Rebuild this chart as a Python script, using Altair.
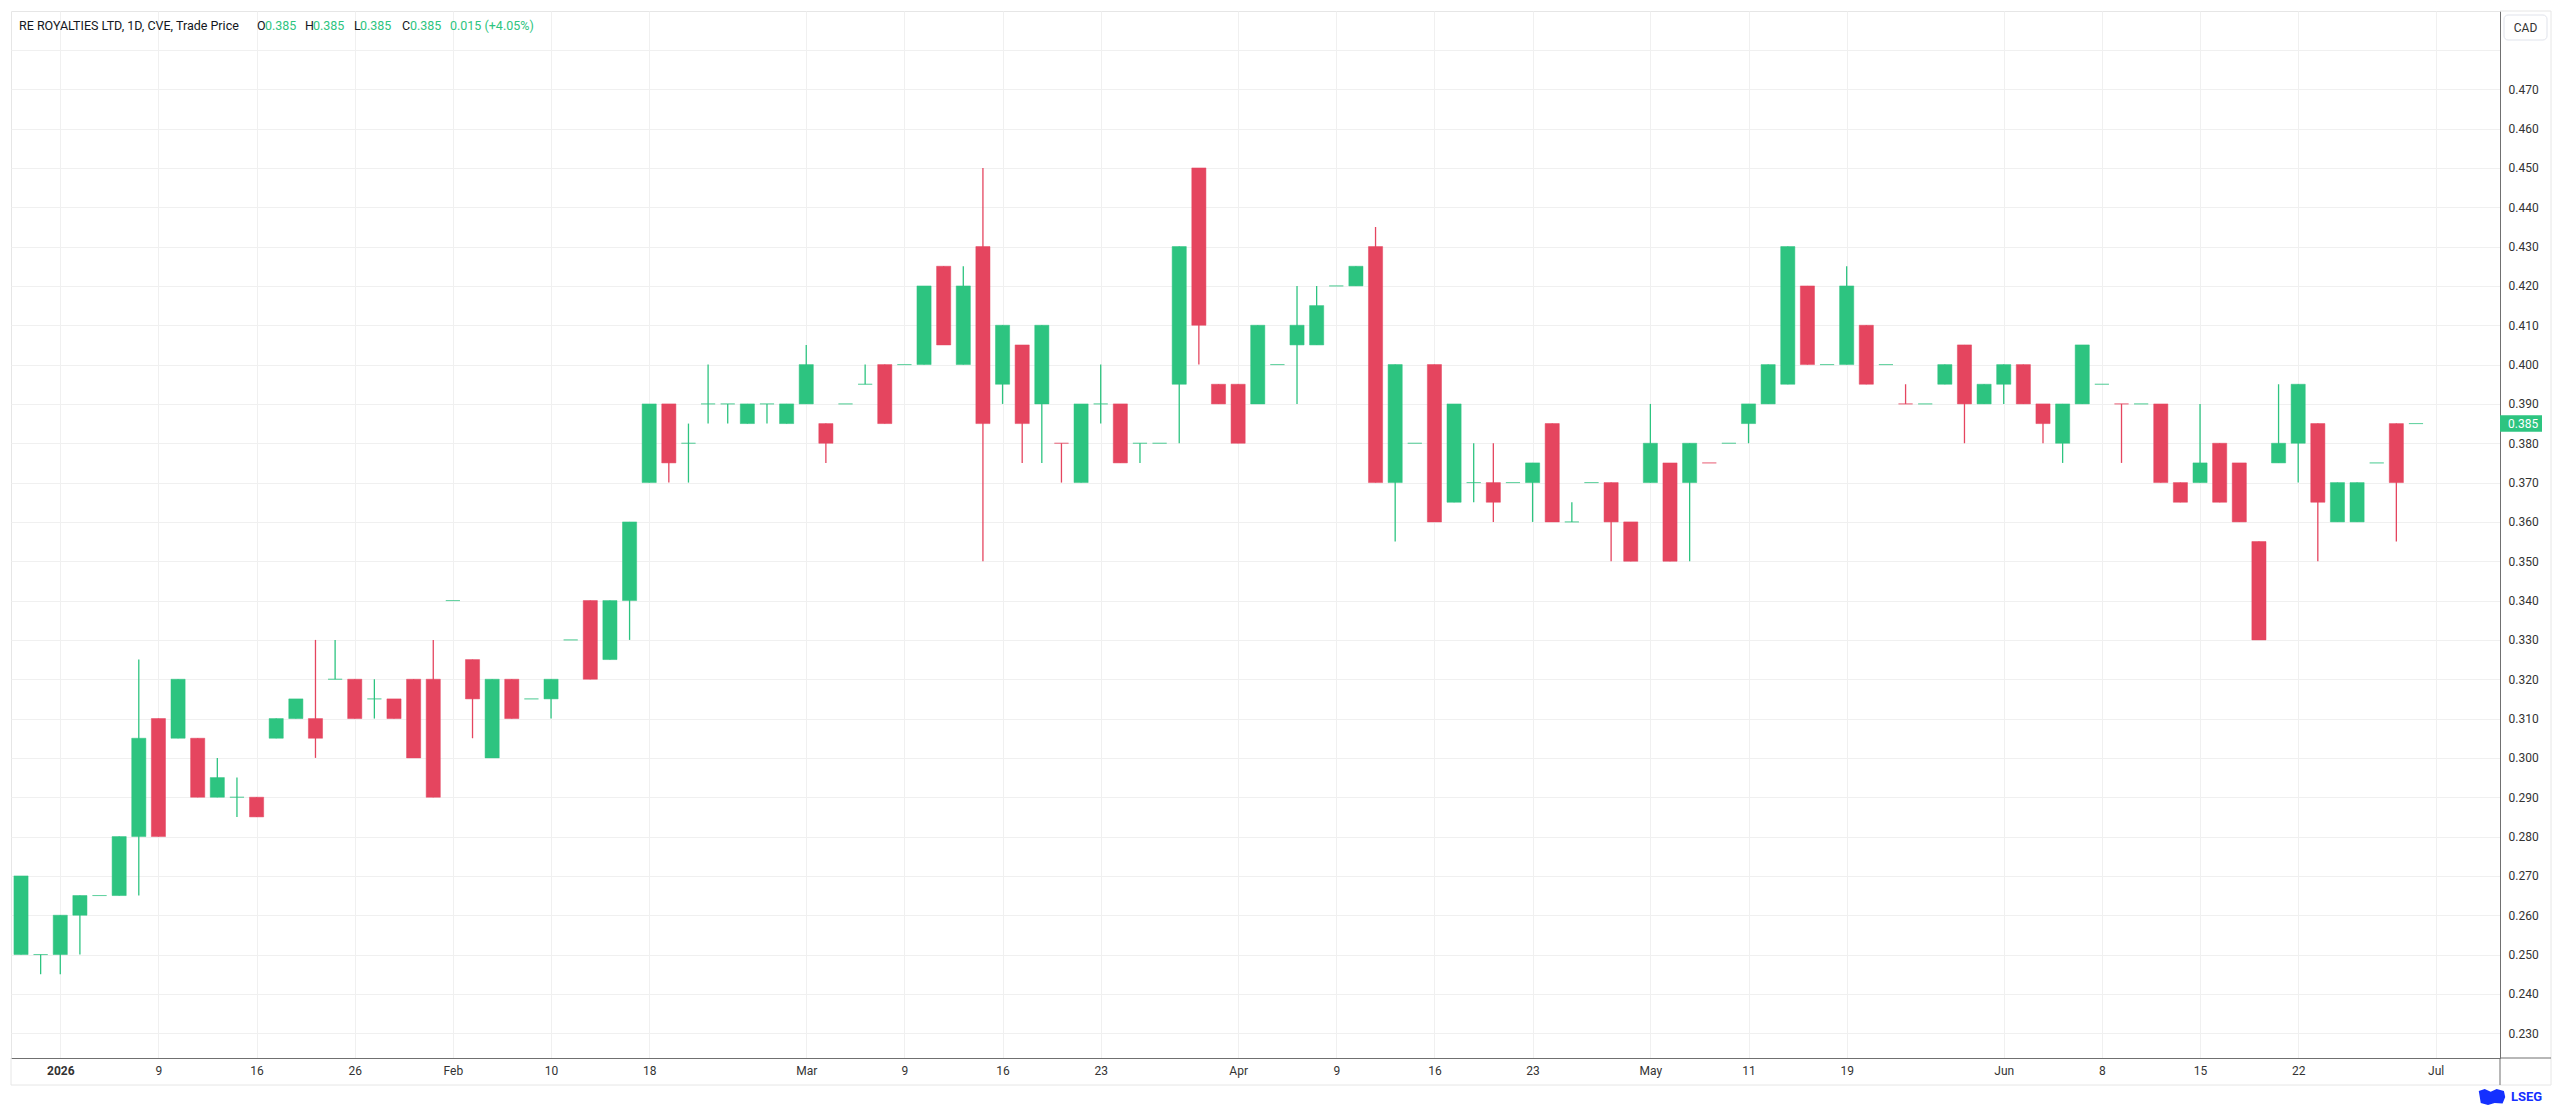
import altair as alt
import pandas as pd

# ---- data (daily OHLC, CAD) ----
opens = [0.250, 0.250, 0.250, 0.260, 0.265, 0.265, 0.280, 0.310, 0.305, 0.305,
         0.290, 0.290, 0.290, 0.305, 0.310, 0.310, 0.320, 0.320, 0.315, 0.315,
         0.320, 0.320, 0.340, 0.325, 0.300, 0.320, 0.315, 0.315, 0.330, 0.340,
         0.325, 0.340, 0.370, 0.390, 0.380, 0.390, 0.390, 0.385, 0.390, 0.385,
         0.390, 0.385, 0.390, 0.395, 0.400, 0.400, 0.400, 0.425, 0.400, 0.430,
         0.395, 0.405, 0.390, 0.380, 0.370, 0.390, 0.390, 0.380, 0.380, 0.395,
         0.450, 0.395, 0.395, 0.390, 0.400, 0.405, 0.405, 0.420, 0.420, 0.430,
         0.370, 0.380, 0.400, 0.365, 0.370, 0.370, 0.370, 0.370, 0.385, 0.360,
         0.370, 0.370, 0.360, 0.370, 0.375, 0.370, 0.375, 0.380, 0.385, 0.390,
         0.395, 0.420, 0.400, 0.400, 0.410, 0.400, 0.390, 0.390, 0.395, 0.405,
         0.390, 0.395, 0.400, 0.390, 0.380, 0.390, 0.395, 0.390, 0.390, 0.390,
         0.370, 0.370, 0.380, 0.375, 0.355, 0.375, 0.380, 0.385, 0.360, 0.360,
         0.375, 0.385, 0.385]
highs = [0.270, 0.250, 0.260, 0.265, 0.265, 0.280, 0.325, 0.310, 0.320, 0.305,
         0.300, 0.295, 0.290, 0.310, 0.315, 0.330, 0.330, 0.320, 0.320, 0.315,
         0.320, 0.330, 0.340, 0.325, 0.320, 0.320, 0.315, 0.320, 0.330, 0.340,
         0.340, 0.360, 0.390, 0.390, 0.385, 0.400, 0.390, 0.390, 0.390, 0.390,
         0.405, 0.385, 0.390, 0.400, 0.400, 0.400, 0.420, 0.425, 0.425, 0.450,
         0.410, 0.405, 0.410, 0.380, 0.390, 0.400, 0.390, 0.380, 0.380, 0.430,
         0.450, 0.395, 0.395, 0.410, 0.400, 0.420, 0.420, 0.420, 0.425, 0.435,
         0.400, 0.380, 0.400, 0.390, 0.380, 0.380, 0.370, 0.375, 0.385, 0.365,
         0.370, 0.370, 0.360, 0.390, 0.375, 0.380, 0.375, 0.380, 0.390, 0.400,
         0.430, 0.420, 0.400, 0.425, 0.410, 0.400, 0.395, 0.390, 0.400, 0.405,
         0.395, 0.400, 0.400, 0.390, 0.390, 0.405, 0.395, 0.390, 0.390, 0.390,
         0.370, 0.390, 0.380, 0.375, 0.355, 0.395, 0.395, 0.385, 0.370, 0.370,
         0.375, 0.385, 0.385]
lows = [0.250, 0.245, 0.245, 0.250, 0.265, 0.265, 0.265, 0.280, 0.305, 0.290,
        0.290, 0.285, 0.285, 0.305, 0.310, 0.300, 0.320, 0.310, 0.310, 0.310,
        0.300, 0.290, 0.340, 0.305, 0.300, 0.310, 0.315, 0.310, 0.330, 0.320,
        0.325, 0.330, 0.370, 0.370, 0.370, 0.385, 0.385, 0.385, 0.385, 0.385,
        0.390, 0.375, 0.390, 0.395, 0.385, 0.400, 0.400, 0.405, 0.400, 0.350,
        0.390, 0.375, 0.375, 0.370, 0.370, 0.385, 0.375, 0.375, 0.380, 0.380,
        0.400, 0.390, 0.380, 0.390, 0.400, 0.390, 0.405, 0.420, 0.420, 0.370,
        0.355, 0.380, 0.360, 0.365, 0.365, 0.360, 0.370, 0.360, 0.360, 0.360,
        0.370, 0.350, 0.350, 0.370, 0.350, 0.350, 0.375, 0.380, 0.380, 0.390,
        0.395, 0.400, 0.400, 0.400, 0.395, 0.400, 0.390, 0.390, 0.395, 0.380,
        0.390, 0.390, 0.390, 0.380, 0.375, 0.390, 0.395, 0.375, 0.390, 0.370,
        0.365, 0.370, 0.365, 0.360, 0.330, 0.375, 0.370, 0.350, 0.360, 0.360,
        0.375, 0.355, 0.385]
closes = [0.270, 0.250, 0.260, 0.265, 0.265, 0.280, 0.305, 0.280, 0.320, 0.290,
          0.295, 0.290, 0.285, 0.310, 0.315, 0.305, 0.320, 0.310, 0.315, 0.310,
          0.300, 0.290, 0.340, 0.315, 0.320, 0.310, 0.315, 0.320, 0.330, 0.320,
          0.340, 0.360, 0.390, 0.375, 0.380, 0.390, 0.390, 0.390, 0.390, 0.390,
          0.400, 0.380, 0.390, 0.395, 0.385, 0.400, 0.420, 0.405, 0.420, 0.385,
          0.410, 0.385, 0.410, 0.380, 0.390, 0.390, 0.375, 0.380, 0.380, 0.430,
          0.410, 0.390, 0.380, 0.410, 0.400, 0.410, 0.415, 0.420, 0.425, 0.370,
          0.400, 0.380, 0.360, 0.390, 0.370, 0.365, 0.370, 0.375, 0.360, 0.360,
          0.370, 0.360, 0.350, 0.380, 0.350, 0.380, 0.375, 0.380, 0.390, 0.400,
          0.430, 0.400, 0.400, 0.420, 0.395, 0.400, 0.390, 0.390, 0.400, 0.390,
          0.395, 0.400, 0.390, 0.385, 0.390, 0.405, 0.395, 0.390, 0.390, 0.370,
          0.365, 0.375, 0.365, 0.360, 0.330, 0.380, 0.395, 0.365, 0.370, 0.370,
          0.375, 0.370, 0.385]
# dojis (open == close) drawn in the down colour
doji_down = [53, 86, 96, 107]

tick_idx = [2, 7, 12, 17, 22, 27, 32, 40, 45, 50, 55, 62, 67, 72, 77, 83, 88, 93,
            101, 106, 111, 116, 123]
tick_labels = ["2026", "9", "16", "26", "Feb", "10", "18", "Mar", "9", "16", "23",
               "Apr", "9", "16", "23", "May", "11", "19", "Jun", "8", "15", "22", "Jul"]
price_ticks = [0.23, 0.24, 0.25, 0.26, 0.27, 0.28, 0.29, 0.30, 0.31, 0.32, 0.33,
               0.34, 0.35, 0.36, 0.37, 0.38, 0.39, 0.40, 0.41, 0.42, 0.43, 0.44,
               0.45, 0.46, 0.47, 0.48]

title_text = "RE ROYALTIES LTD, 1D, CVE, Trade Price"
change_text = "0.015 (+4.05%)"
currency = "CAD"

# ---- styling ----
GREEN = "#2dc480"
RED = "#e5455f"
FONT = "Roboto"
TXT = "#131722"
GRID = "#f0f0f0"
FRAME = "#e6e6e6"
AXISLINE = "#707070"

W, H = 2489, 1047

n = len(opens)
dirs = []
for i in range(n):
    if closes[i] > opens[i]:
        dirs.append("up")
    elif closes[i] < opens[i]:
        dirs.append("down")
    else:
        dirs.append("down" if i in doji_down else "up")

df = pd.DataFrame({"i": list(range(n)), "o": opens, "h": highs, "l": lows,
                   "c": closes, "dir": dirs})

lab_arr = [""] * (max(tick_idx) + 1)
for t, s in zip(tick_idx, tick_labels):
    lab_arr[t] = s
label_expr = "[" + ",".join("'%s'" % s for s in lab_arr) + "][datum.value]"

xs = alt.Scale(domain=[-0.51, 126.28], nice=False, zero=False)
ys = alt.Scale(domain=[0.2237, 0.4899], nice=False, zero=False)
cs = alt.Scale(domain=["up", "down"], range=[GREEN, RED])

xaxis = alt.Axis(values=tick_idx, labelExpr=label_expr, grid=True, gridColor=GRID,
                 gridWidth=1, ticks=False, domainColor=AXISLINE, domainWidth=1,
                 labelColor="#333333", labelFont=FONT, labelFontSize=12,
                 labelPadding=7, title=None, labelFlush=False, labelOverlap=False,
                 labelFontWeight={"expr": "datum.value == 2 ? 'bold' : 'normal'"})
yaxis = alt.Axis(orient="right", values=price_ticks,
                 labelExpr="datum.value > 0.475 ? '' : format(datum.value, '.3f')",
                 grid=True, gridColor=GRID, gridWidth=1, ticks=False,
                 domainColor=AXISLINE, domainWidth=1, labelColor="#333333",
                 labelFont=FONT, labelFontSize=12, labelPadding=8, title=None,
                 labelFlush=False, labelOverlap=False)

wicks = alt.Chart(df).mark_rule(strokeWidth=1.3).encode(
    x=alt.X("i:Q", scale=xs, axis=xaxis),
    y=alt.Y("l:Q", scale=ys, axis=yaxis),
    y2="h:Q",
    color=alt.Color("dir:N", scale=cs, legend=None),
)

bodies = alt.Chart(df).transform_calculate(
    x0="datum.i - 0.36", x1="datum.i + 0.36"
).mark_rect(strokeWidth=1, strokeOpacity=0.5).encode(
    x=alt.X("x0:Q", scale=xs, axis=xaxis),
    x2="x1:Q",
    y=alt.Y("o:Q", scale=ys, axis=yaxis),
    y2="c:Q",
    fill=alt.Fill("dir:N", scale=cs, legend=None),
    stroke=alt.Stroke("dir:N", scale=cs, legend=None),
)

one = pd.DataFrame({"k": [0]})


def txt(s, x, y, color=TXT, size=12.5, weight="normal", align="left"):
    return alt.Chart(one).mark_text(
        text=s, align=align, baseline="middle", font=FONT, fontSize=size,
        fontWeight=weight, color=color
    ).encode(x=alt.value(x), y=alt.value(y))


def rule(x, x2, y, y2, color, width=1):
    return alt.Chart(one).mark_rule(color=color, strokeWidth=width).encode(
        x=alt.value(x), x2=alt.value(x2), y=alt.value(y), y2=alt.value(y2))


last = closes[-1]
fmt = "%.3f"

header = [
    txt(title_text, 8, 14.5),
    txt("O", 246, 14.5), txt(fmt % opens[-1], 254, 14.5, GREEN),
    txt("H", 294, 14.5), txt(fmt % highs[-1], 302, 14.5, GREEN),
    txt("L", 343, 14.5), txt(fmt % lows[-1], 349, 14.5, GREEN),
    txt("C", 391, 14.5), txt(fmt % closes[-1], 399, 14.5, GREEN),
    txt(change_text, 439, 14.5, GREEN),
]

frame = [
    rule(2540, 2540, 0, 1074, FRAME),
    rule(0, 2540, 1074, 1074, FRAME),
    rule(0, 0, 1047, 1074, FRAME),
    rule(2489, 2540, 0, 0, FRAME),
    rule(2489, 2489, 1047, 1074, AXISLINE),
    rule(2489, 2540, 1047, 1047, AXISLINE),
]

cad_box = alt.Chart(one).mark_rect(
    fill="white", stroke="#e0e3eb", strokeWidth=1, cornerRadius=4
).encode(x=alt.value(2493), x2=alt.value(2536), y=alt.value(4), y2=alt.value(29))
cad_txt = txt(currency, 2514.5, 16.5, "#333333", 12, align="center")

tag = alt.Chart(one).mark_rect(fill=GREEN).encode(
    x=alt.value(2489), x2=alt.value(2531),
    y=alt.datum(last - 0.0021, scale=ys), y2=alt.datum(last + 0.0021),
)
tag_txt = alt.Chart(one).mark_text(
    text=fmt % last, align="left", baseline="middle", font=FONT, fontSize=12,
    color="white"
).encode(x=alt.value(2497), y=alt.datum(last, scale=ys))

logo_icon = alt.Chart(one).mark_point(
    shape="M-1,-0.45L-0.55,-0.6L-0.1,-0.4L0.35,-0.6L0.9,-0.45L1,0L0.8,0.5L0.2,0.45L-0.3,0.6L-0.85,0.45Z",
    filled=True, color="#1430ff", size=700, opacity=1
).encode(x=alt.value(2481), y=alt.value(1086))
logo_txt = txt("LSEG", 2500, 1086, "#1430ff", 13, "bold")

chart = alt.layer(
    wicks, bodies, *frame, *header, cad_box, cad_txt, tag, tag_txt, logo_icon, logo_txt
).properties(
    width=W, height=H,
    padding={"left": 2, "top": 2, "right": 0, "bottom": 0},
    background="white",
).configure_view(stroke=FRAME, strokeWidth=1)

chart.save("out.html", embed_options={"renderer": "svg", "actions": False})
